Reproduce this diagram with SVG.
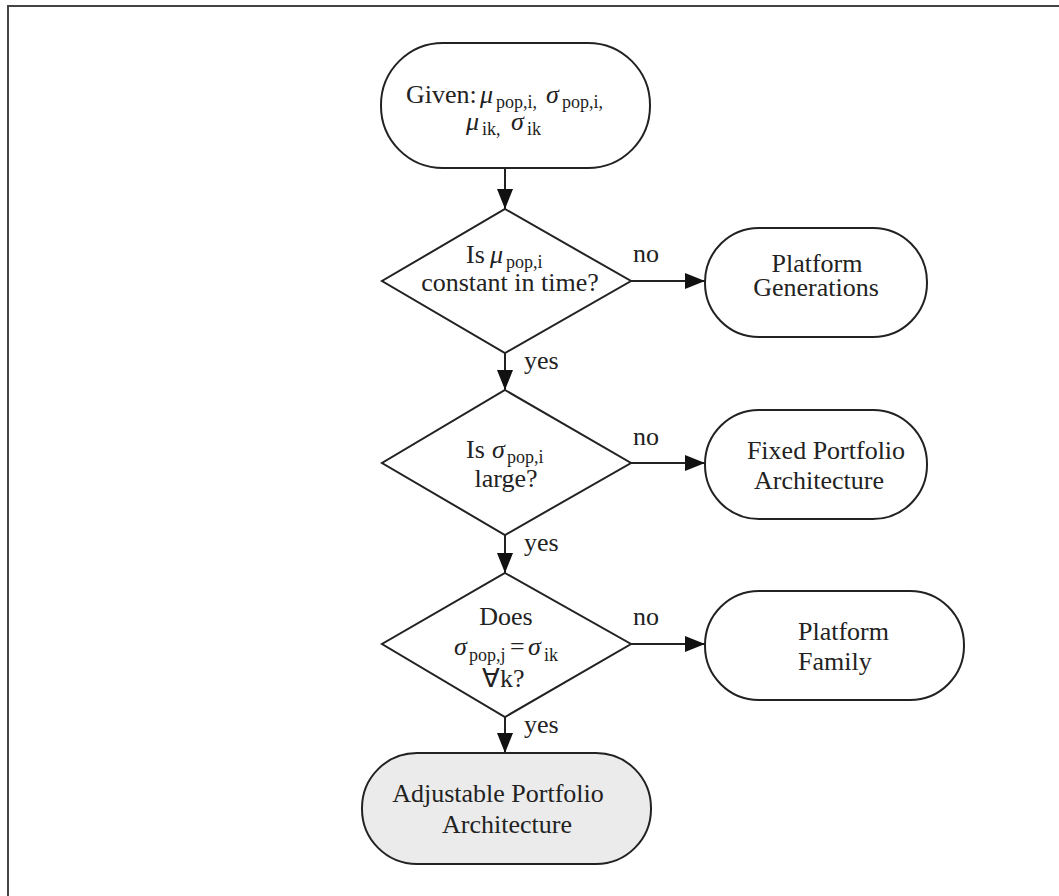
<svg xmlns="http://www.w3.org/2000/svg" width="1059" height="896" viewBox="0 0 1059 896">
<defs>
<marker id="ah" markerWidth="20" markerHeight="16" refX="20" refY="8" orient="auto" markerUnits="userSpaceOnUse">
<path d="M0,0 L20,8 L0,16 Z" fill="#111"/>
</marker>
<style>
.n{fill:#fff;stroke:#222;stroke-width:2}
.g{fill:#ebebeb;stroke:#222;stroke-width:2}
.c{stroke:#222;stroke-width:2;fill:none}
.t{font-family:"Liberation Serif","Times New Roman",serif;font-size:26px;fill:#222}
.s{font-family:"Liberation Serif","Times New Roman",serif;font-size:18px;fill:#222}
.i{font-style:italic}
.l{font-family:"Liberation Serif","Times New Roman",serif;font-size:26px;fill:#222}
</style>
</defs>
<rect width="1059" height="896" fill="#fff"/>
<path d="M8,896 V6 H1059" fill="none" stroke="#444" stroke-width="2"/>

<g id="connectors">
<line class="c" x1="505" y1="168" x2="505" y2="209" marker-end="url(#ah)"/>
<line class="c" x1="631" y1="281" x2="705" y2="281" marker-end="url(#ah)"/>
<line class="c" x1="505" y1="353" x2="505" y2="390" marker-end="url(#ah)"/>
<line class="c" x1="631" y1="463" x2="705" y2="463" marker-end="url(#ah)"/>
<line class="c" x1="505" y1="535" x2="505" y2="573" marker-end="url(#ah)"/>
<line class="c" x1="631" y1="644" x2="705" y2="644" marker-end="url(#ah)"/>
<line class="c" x1="505" y1="717" x2="505" y2="753" marker-end="url(#ah)"/>
<text class="l" x="633" y="262">no</text>
<text class="l" x="633" y="445">no</text>
<text class="l" x="633" y="625">no</text>
<text class="l" x="524" y="369">yes</text>
<text class="l" x="524" y="551">yes</text>
<text class="l" x="524" y="733">yes</text>
</g>

<g id="start">
<rect class="n" x="381" y="43" width="269" height="125" rx="62" ry="62"/>
<text class="t" x="406" y="103">Given:</text>
<text class="t i" x="480" y="103">μ</text>
<text class="s" x="496" y="108">pop,i,</text>
<text class="t i" x="546" y="103">σ</text>
<text class="s" x="562" y="108">pop,i,</text>
<text class="t i" x="466" y="130">μ</text>
<text class="s" x="482" y="135">ik,</text>
<text class="t i" x="511" y="130">σ</text>
<text class="s" x="527" y="135">ik</text>
</g>

<g id="decision1">
<polygon class="n" points="505,209 631,281 505,353 382,281"/>
<text class="t" x="466" y="263">Is</text>
<text class="t i" x="490" y="263">μ</text>
<text class="s" x="506" y="268">pop,i</text>
<text class="t" x="510" y="291" text-anchor="middle">constant in time?</text>
</g>

<g id="platform-generations">
<rect class="n" x="705" y="228" width="222" height="109" rx="54" ry="54"/>
<text class="t" x="817" y="272" text-anchor="middle">Platform</text>
<text class="t" x="816" y="296" text-anchor="middle">Generations</text>
</g>

<g id="decision2">
<polygon class="n" points="505,390 631,463 505,535 382,463"/>
<text class="t" x="466" y="458">Is</text>
<text class="t i" x="492" y="458">σ</text>
<text class="s" x="507" y="463">pop,i</text>
<text class="t" x="506" y="487" text-anchor="middle">large?</text>
</g>

<g id="fixed-portfolio">
<rect class="n" x="705" y="410" width="222" height="109" rx="54" ry="54"/>
<text class="t" x="826" y="459" text-anchor="middle">Fixed Portfolio</text>
<text class="t" x="819" y="489" text-anchor="middle">Architecture</text>
</g>

<g id="decision3">
<polygon class="n" points="505,573 631,644 505,717 382,644"/>
<text class="t" x="506" y="625" text-anchor="middle">Does</text>
<text class="t i" x="454" y="655">σ</text>
<text class="s" x="469" y="661">pop,j</text>
<text class="t" x="510" y="655">=</text>
<text class="t i" x="528" y="655">σ</text>
<text class="s" x="544" y="661">ik</text>
<text class="t" x="482" y="687">∀k?</text>
</g>

<g id="platform-family">
<rect class="n" x="705" y="591" width="259" height="109" rx="54" ry="54"/>
<text class="t" x="798" y="640">Platform</text>
<text class="t" x="798" y="670">Family</text>
</g>

<g id="adjustable-portfolio">
<rect class="g" x="362" y="753" width="289" height="111" rx="55" ry="55"/>
<text class="t" x="498" y="802" text-anchor="middle">Adjustable Portfolio</text>
<text class="t" x="507" y="833" text-anchor="middle">Architecture</text>
</g>
</svg>
